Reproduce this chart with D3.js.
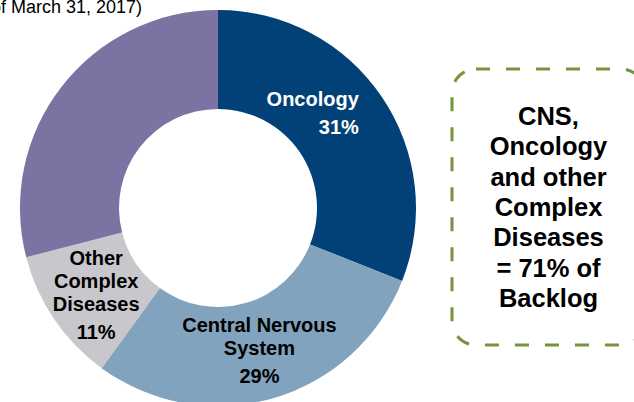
<!DOCTYPE html>
<html lang="en">
  <head>
    <meta charset="UTF-8" />
    <script src="https://d3js.org/d3.v7.min.js"></script>
    <style>
      body {
        margin: 0;
        background: #fff;
      }
      svg {
        display: block;
        font-family: "Liberation Sans", Arial, sans-serif;
      }
    </style>
  </head>
  <body>
    <div id="chart"></div>
    <script>
      // Backlog share by therapeutic area (clockwise from 12 o'clock)
      var categories = ["Oncology", "Central Nervous System", "Other Complex Diseases", "Other"];
      var shares = [31, 29, 11, 29];
      var labelLines = [["Oncology"], ["Central Nervous", "System"], ["Other", "Complex", "Diseases"], []];
      var colors = ["#024177", "#82a3bd", "#c8c8cc", "#7b73a1"];
      var calloutLines = ["CNS,", "Oncology", "and other", "Complex", "Diseases", "= 71% of", "Backlog"];
      var subtitle = "(As of March 31, 2017)";

      var width = 634;
      var height = 402;
      var cx = 218;
      var cy = 208;
      var outerR = 198;
      var innerR = 99;

      var svg = d3
        .select("#chart")
        .append("svg")
        .attr("width", width)
        .attr("height", height);

      // subtitle, partly off the left edge like the source slide
      svg
        .append("text")
        .attr("x", 142)
        .attr("y", 13)
        .attr("text-anchor", "end")
        .style("font-size", "18px")
        .attr("fill", "#000")
        .text(subtitle);

      var data = categories.map(function (c, i) {
        return { name: c, value: shares[i], lines: labelLines[i], color: colors[i] };
      });

      var pie = d3
        .pie()
        .sort(null)
        .value(function (d) {
          return d.value;
        });
      var arc = d3.arc().innerRadius(innerR).outerRadius(outerR);
      var arcs = pie(data);

      var g = svg.append("g").attr("transform", "translate(" + cx + "," + cy + ")");

      g.selectAll("path")
        .data(arcs)
        .enter()
        .append("path")
        .attr("d", arc)
        .attr("fill", function (d) {
          return d.data.color;
        });

      // label placement tweaks (oncology label sits up-left of centroid, right aligned)
      var labelStyle = {
        Oncology: { dx: 18, dy: -12, anchor: "end", fill: "#fff" },
        "Central Nervous System": { dx: 0, dy: 0, anchor: "middle", fill: "#000" },
        "Other Complex Diseases": { dx: 1, dy: 4, anchor: "middle", fill: "#000" }
      };
      var lineH = 23;
      var pctGap = 28;
      var capH = 14;

      arcs.forEach(function (d) {
        var st = labelStyle[d.data.name];
        if (!st) return;
        var c = arc.centroid(d);
        var n = d.data.lines.length;
        var blockH = capH + (n - 1) * lineH + pctGap;
        var top = c[1] + st.dy - blockH / 2 + capH;
        var x = c[0] + st.dx;
        var t = g
          .append("text")
          .attr("text-anchor", st.anchor)
          .attr("fill", st.fill)
          .style("font-size", "20px")
          .style("font-weight", "bold");
        d.data.lines.forEach(function (line, i) {
          t.append("tspan")
            .attr("x", x)
            .attr("y", top + i * lineH)
            .text(line);
        });
        t.append("tspan")
          .attr("x", x)
          .attr("y", top + (n - 1) * lineH + pctGap)
          .text(d.data.value + "%");
      });

      // dashed callout box
      var box = { x: 452, y: 69, w: 193, h: 276 };
      svg
        .append("rect")
        .attr("x", box.x)
        .attr("y", box.y)
        .attr("width", box.w)
        .attr("height", box.h)
        .attr("rx", 24)
        .attr("ry", 24)
        .attr("fill", "none")
        .attr("stroke", "#77933c")
        .attr("stroke-width", 3)
        .attr("stroke-dasharray", "14,16");

      var callout = svg
        .append("text")
        .attr("text-anchor", "middle")
        .style("font-size", "25.5px")
        .style("font-weight", "bold")
        .attr("fill", "#000");
      callout
        .selectAll("tspan")
        .data(calloutLines)
        .enter()
        .append("tspan")
        .attr("x", box.x + box.w / 2)
        .attr("y", function (d, i) {
          return 125 + i * 30.3;
        })
        .text(function (d) {
          return d;
        });
    </script>
  </body>
</html>
